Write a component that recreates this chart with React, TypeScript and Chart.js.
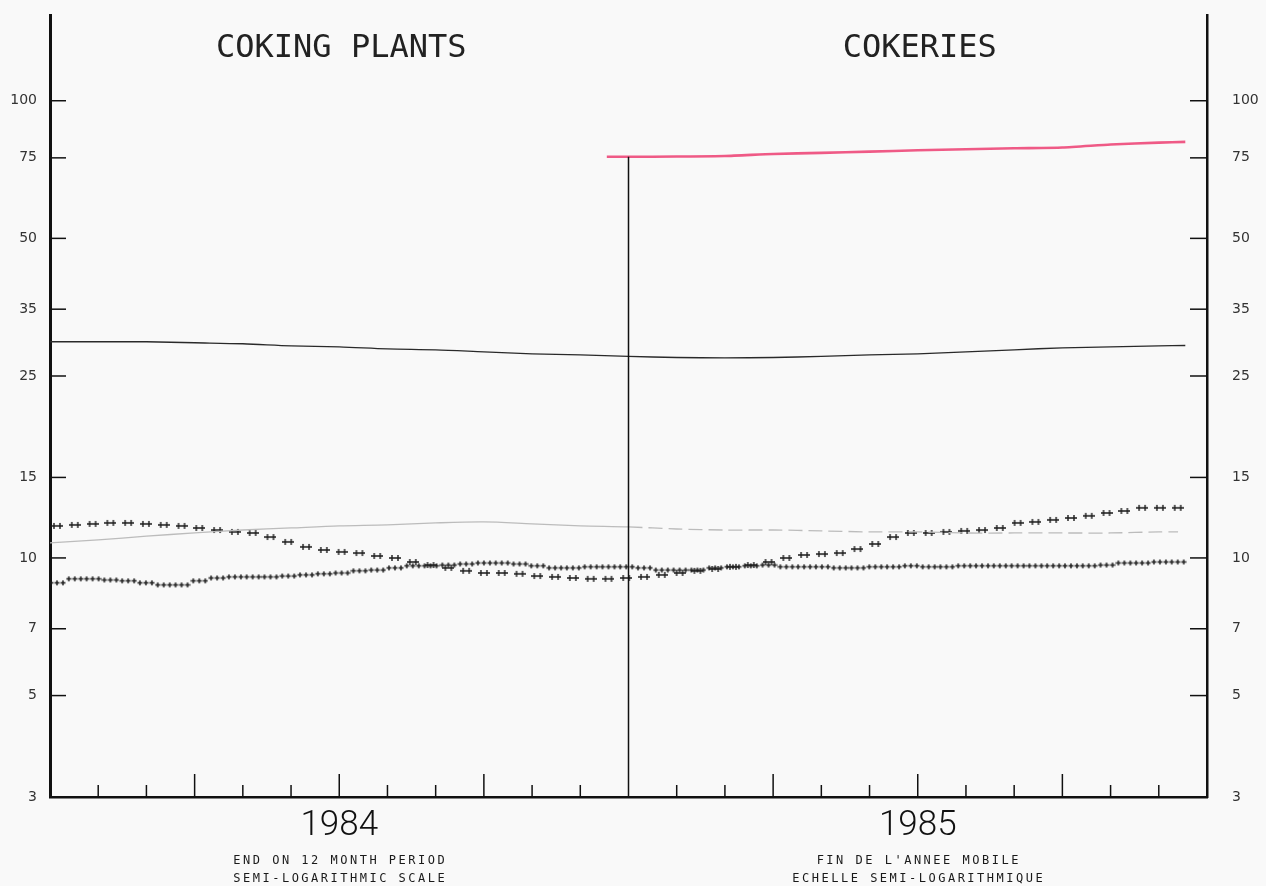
import React, { useEffect, useRef } from 'react';
import { Chart, registerables } from 'chart.js';

Chart.register(...registerables);

// ---- axis data ----
const Y_TICKS = [3, 5, 7, 10, 15, 25, 35, 50, 75, 100];
const Y_MIN = 3;
const Y_MAX = 154;
const X_MAX = 24;
const YEAR_MONTHS = [6, 18];
const YEARS = ['1984', '1985'];
const TITLES = ['COKING PLANTS', 'COKERIES'];
const NOTES_EN = ['END ON 12 MONTH PERIOD', 'SEMI-LOGARITHMIC SCALE'];
const NOTES_FR = ["FIN DE L'ANNEE MOBILE", 'ECHELLE SEMI-LOGARITHMIQUE'];

// ---- series data (months from start of 1984) ----
const LINE_MONTHS = [0, 1, 2, 3, 4, 5, 6, 7, 8, 9, 10, 11, 12, 13, 14, 15, 16, 17, 18, 19, 20, 21, 22, 23, 23.55];
const BLACK_SERIES = [29.7, 29.7, 29.7, 29.55, 29.4, 29.1, 28.95, 28.66, 28.52, 28.23, 27.95, 27.81, 27.6, 27.45, 27.39, 27.45, 27.6, 27.81, 27.95, 28.23, 28.52, 28.8, 28.95, 29.1, 29.15];

const GREY_MONTHS = [0, 1, 2, 3, 4, 5, 6, 7, 8, 9, 10, 11, 12, 13, 14, 15, 16, 17, 18, 19, 20, 21, 22, 23, 23.4];
const GREY_SERIES = [10.79, 10.95, 11.16, 11.34, 11.51, 11.63, 11.75, 11.81, 11.93, 11.99, 11.87, 11.75, 11.69, 11.57, 11.51, 11.51, 11.46, 11.4, 11.4, 11.34, 11.34, 11.34, 11.34, 11.4, 11.4];

const PINK_MONTHS = [11.55, 12, 13, 14, 15, 16, 17, 18, 19, 20, 21, 22, 23, 23.55];
const PINK_SERIES = [75.4, 75.4, 75.5, 75.7, 76.5, 76.9, 77.4, 77.9, 78.3, 78.7, 79.0, 80.2, 81.0, 81.3];

const DIVIDER_MONTH = 12;
const DIVIDER_RANGE = [3, 75.4];

// dotted series sampled every ~0.369 month
const DOT_START = 0.145;
const DOT_STEP = 0.369;
const DOTS_A = [
  11.75, 11.81, 11.87, 11.93, 11.93, 11.87, 11.81, 11.75, 11.63, 11.51,
  11.4, 11.34, 11.11, 10.84, 10.57, 10.41, 10.31, 10.25, 10.1, 10.0,
  9.8, 9.65, 9.51, 9.37, 9.27, 9.27, 9.23, 9.13, 9.09, 9.04,
  9.0, 9.0, 9.04, 9.09, 9.18, 9.27, 9.37, 9.46, 9.56, 9.65,
  9.8, 10.0, 10.15, 10.2, 10.25, 10.46, 10.73, 11.11, 11.34, 11.34,
  11.4, 11.46, 11.51, 11.63, 11.93, 11.99, 12.11, 12.23, 12.36, 12.54,
  12.67, 12.87, 12.87, 12.87,
];
const DOTS_B = [
  8.82, 9.0, 9.0, 8.95, 8.91, 8.82, 8.73, 8.73, 8.91, 9.04,
  9.09, 9.09, 9.09, 9.13, 9.18, 9.23, 9.27, 9.37, 9.41, 9.51,
  9.61, 9.61, 9.65, 9.7, 9.75, 9.75, 9.7, 9.61, 9.51, 9.51,
  9.56, 9.56, 9.56, 9.51, 9.41, 9.41, 9.41, 9.51, 9.56, 9.61,
  9.65, 9.56, 9.56, 9.56, 9.51, 9.51, 9.56, 9.56, 9.61, 9.56,
  9.56, 9.61, 9.61, 9.61, 9.61, 9.61, 9.61, 9.61, 9.61, 9.65,
  9.75, 9.75, 9.8, 9.8,
];

function makeCrosses(count: number, spacing: number, size: number, color: string) {
  const c = document.createElement('canvas');
  c.width = count * spacing;
  c.height = size + 2;
  const g = c.getContext('2d')!;
  g.strokeStyle = color;
  g.lineWidth = 1.4;
  for (let i = 0; i < count; i++) {
    const cx = spacing / 2 + i * spacing;
    const cy = c.height / 2;
    g.beginPath();
    g.moveTo(cx - size / 2, cy);
    g.lineTo(cx + size / 2, cy);
    g.moveTo(cx, cy - size / 2);
    g.lineTo(cx, cy + size / 2);
    g.stroke();
  }
  return c;
}

const decorPlugin = {
  id: 'decor',
  beforeDraw(chart: any) {
    const { ctx, width, height } = chart;
    ctx.save();
    ctx.fillStyle = '#f9f9f9';
    ctx.fillRect(0, 0, width, height);
    ctx.restore();
  },
  afterDraw(chart: any) {
    const { ctx, chartArea: ca, scales } = chart;
    const xs = scales.x;
    const ys = scales.y;
    ctx.save();
    ctx.strokeStyle = '#111';
    ctx.lineWidth = 1.5;
    const line = (x1: number, y1: number, x2: number, y2: number) => {
      ctx.beginPath();
      ctx.moveTo(x1, y1);
      ctx.lineTo(x2, y2);
      ctx.stroke();
    };
    Y_TICKS.forEach((v) => {
      if (v === Y_MIN) return;
      const py = ys.getPixelForValue(v);
      line(ca.left, py, ca.left + 16, py);
      line(ca.right - 17, py, ca.right, py);
    });
    for (let m = 1; m < X_MAX; m++) {
      if (m === DIVIDER_MONTH) continue;
      const px = xs.getPixelForValue(m);
      const len = m % 3 === 0 ? 23 : 12;
      line(px, ca.bottom, px, ca.bottom - len);
    }
    // titles
    ctx.fillStyle = '#222';
    ctx.textAlign = 'center';
    ctx.textBaseline = 'middle';
    ctx.font = '32px "DejaVu Sans Mono"';
    TITLES.forEach((t, i) => {
      ctx.fillText(t, xs.getPixelForValue(YEAR_MONTHS[i]) + 2, 49);
    });
    // notes
    ctx.fillStyle = '#1a1a1a';
    ctx.font = '12px "DejaVu Sans Mono"';
    (ctx as any).letterSpacing = '2.5px';
    const noteSets = [NOTES_EN, NOTES_FR];
    noteSets.forEach((notes, i) => {
      const cx = xs.getPixelForValue(YEAR_MONTHS[i]) + 1;
      notes.forEach((n, j) => ctx.fillText(n, cx, 861 + j * 18));
    });
    ctx.restore();
  },
};

export default function App() {
  const ref = useRef<HTMLCanvasElement>(null);

  useEffect(() => {
    if (!ref.current) return;
    const crossPair = makeCrosses(2, 6, 6, '#1a1a1a');
    const crossRun = makeCrosses(3, 6, 5, '#1a1a1a');

    const toXY = (xsArr: number[], vals: number[]) => vals.map((v, i) => ({ x: xsArr[i], y: v }));
    const dotXY = (vals: number[]) => vals.map((v, i) => ({ x: DOT_START + i * DOT_STEP, y: v }));

    const yTickFont = { family: '"DejaVu Sans", sans-serif', size: 14 };
    const noPad = (s: any, w: number) => {
      s.width = w;
      s.paddingTop = 0;
      s.paddingBottom = 0;
    };

    const chart = new Chart(ref.current, {
      type: 'line',
      data: {
        datasets: [
          {
            label: 'Divider',
            data: [
              { x: DIVIDER_MONTH, y: DIVIDER_RANGE[0] },
              { x: DIVIDER_MONTH, y: DIVIDER_RANGE[1] },
            ],
            borderColor: '#111',
            borderWidth: 1.5,
            pointRadius: 0,
          },
          {
            label: 'Grey',
            data: toXY(GREY_MONTHS, GREY_SERIES),
            borderColor: '#bcbcbc',
            borderWidth: 1.3,
            pointRadius: 0,
            tension: 0.3,
            segment: {
              borderDash: (c: any) => (c.p0.parsed.x >= DIVIDER_MONTH ? [14, 6] : undefined),
            },
          },
          {
            label: 'Black',
            data: toXY(LINE_MONTHS, BLACK_SERIES),
            borderColor: '#2a2a2a',
            borderWidth: 1.4,
            pointRadius: 0,
            tension: 0.3,
          },
          {
            label: 'Pink',
            data: toXY(PINK_MONTHS, PINK_SERIES),
            borderColor: '#ef5a86',
            borderWidth: 2.6,
            pointRadius: 0,
            tension: 0.2,
          },
          {
            label: 'Dots A',
            data: dotXY(DOTS_A),
            showLine: false,
            pointStyle: crossPair as any,
            pointRadius: 3,
          },
          {
            label: 'Dots B',
            data: dotXY(DOTS_B),
            showLine: false,
            pointStyle: crossRun as any,
            pointRadius: 3,
          },
        ],
      },
      options: {
        animation: false,
        responsive: false,
        devicePixelRatio: 1,
        layout: { padding: { top: 15, left: 0, right: 0, bottom: 0 } },
        plugins: {
          legend: { display: false },
          tooltip: { enabled: false },
          title: { display: false },
        },
        scales: {
          x: {
            type: 'linear',
            position: 'bottom',
            min: 0,
            max: X_MAX,
            grid: { display: false, drawTicks: false },
            border: { display: true, color: '#111', width: 2.5 },
            ticks: {
              stepSize: 1,
              autoSkip: false,
              maxRotation: 0,
              padding: 8,
              color: '#111',
              font: { family: 'Roboto, "DejaVu Sans", sans-serif', size: 35, weight: '300' as any },
              callback: (v: any) => {
                const i = YEAR_MONTHS.indexOf(Number(v));
                return i >= 0 ? YEARS[i] : '';
              },
            },
            afterFit: (s: any) => {
              s.height = 89;
              s.paddingLeft = 0;
              s.paddingRight = 0;
            },
          },
          y: {
            type: 'logarithmic',
            position: 'left',
            min: Y_MIN,
            max: Y_MAX,
            grid: { display: false, drawTicks: false },
            border: { display: true, color: '#111', width: 3 },
            afterBuildTicks: (s: any) => {
              s.ticks = Y_TICKS.map((v) => ({ value: v }));
            },
            ticks: {
              padding: 13,
              color: '#333',
              font: yTickFont,
              callback: (v: any) => String(v),
            },
            afterFit: (s: any) => noPad(s, 50),
          },
          y2: {
            type: 'logarithmic',
            position: 'right',
            min: Y_MIN,
            max: Y_MAX,
            grid: { display: false, drawTicks: false },
            border: { display: true, color: '#111', width: 2.5 },
            afterBuildTicks: (s: any) => {
              s.ticks = Y_TICKS.map((v) => ({ value: v }));
            },
            ticks: {
              padding: 25,
              color: '#333',
              font: yTickFont,
              callback: (v: any) => String(v),
            },
            afterFit: (s: any) => noPad(s, 59),
          },
        },
      } as any,
      plugins: [decorPlugin],
    });

    return () => chart.destroy();
  }, []);

  return (
    <div style={{ position: 'absolute', left: 0, top: 0, width: 1266, height: 886 }}>
      <canvas ref={ref} width={1266} height={886} style={{ display: 'block' }} />
    </div>
  );
}
